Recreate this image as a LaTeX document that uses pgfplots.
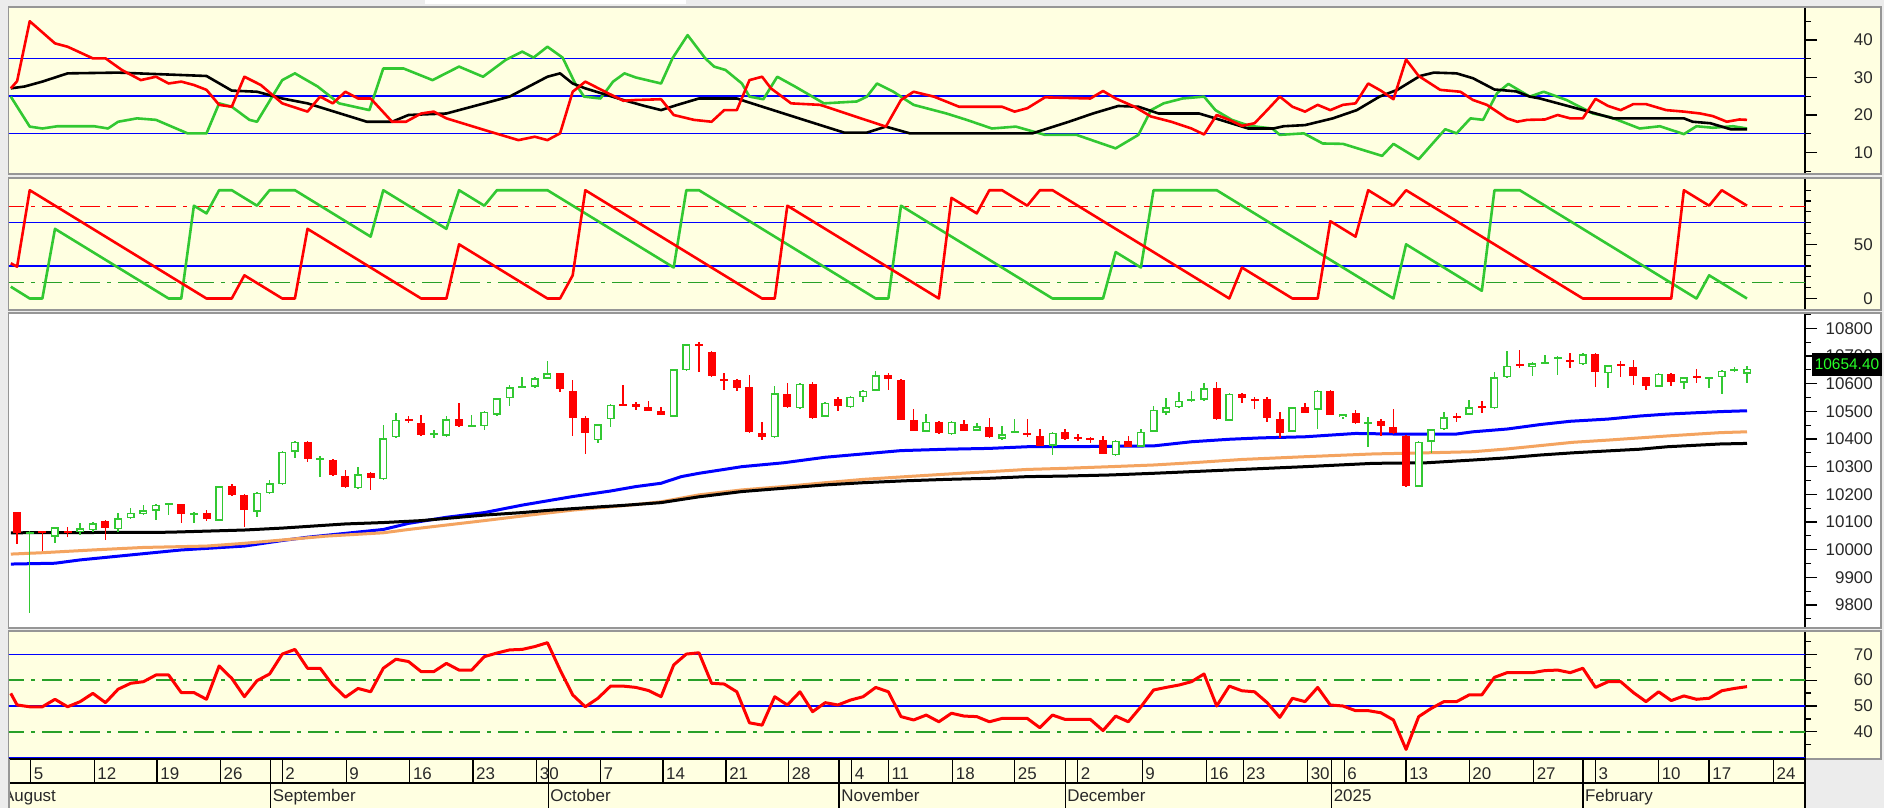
\documentclass[border=0pt]{standalone}
\usepackage{fontspec}
\setmainfont{Liberation Sans}
\usepackage{pgfplots}
\usepackage{pgfplotstable}
\pgfplotsset{compat=1.18}

\definecolor{pan}{RGB}{255,255,225}
\definecolor{win}{RGB}{236,236,236}
\definecolor{frm}{RGB}{150,150,150}
\definecolor{upg}{RGB}{50,200,50}
\definecolor{ddg}{RGB}{40,160,40}
\definecolor{dnr}{RGB}{255,0,0}
\definecolor{refb}{RGB}{0,0,255}
\definecolor{maor}{RGB}{244,164,96}
\definecolor{lbl}{RGB}{40,40,40}

% daily candles, i = trading day
\pgfplotstableread{
i O H L C
0 10137 10137 10020 10061
1 10058 10066 9770 10063
2 10065 10066 9996 10060
3 10047 10082 10025 10081
4 10066 10081 10047 10063
5 10065 10095 10053 10077
6 10071 10101 10065 10095
7 10104 10106 10035 10077
8 10074 10134 10065 10113
9 10113 10149 10110 10134
10 10129 10161 10125 10143
11 10140 10166 10107 10163
12 10165 10168 10125 10168
13 10164 10166 10095 10129
14 10128 10137 10095 10131
15 10131 10143 10105 10110
16 10105 10232 10103 10230
17 10230 10237 10195 10198
18 10198 10200 10083 10143
19 10137 10210 10119 10206
20 10204 10252 10200 10240
21 10237 10357 10235 10354
22 10354 10392 10330 10390
23 10390 10392 10318 10326
24 10326 10338 10264 10330
25 10324 10326 10268 10270
26 10266 10288 10222 10225
27 10222 10300 10220 10273
28 10278 10280 10216 10258
29 10254 10450 10252 10402
30 10406 10495 10404 10469
31 10474 10483 10457 10466
32 10457 10487 10412 10415
33 10418 10433 10402 10421
34 10411 10483 10409 10471
35 10471 10529 10445 10447
36 10447 10487 10445 10450
37 10447 10502 10433 10499
38 10487 10550 10483 10547
39 10547 10595 10519 10587
40 10587 10625 10585 10590
41 10589 10625 10586 10619
42 10617 10683 10615 10637
43 10637 10640 10571 10580
44 10575 10613 10411 10475
45 10475 10483 10346 10423
46 10396 10456 10387 10454
47 10471 10527 10444 10523
48 10525 10597 10519 10521
49 10525 10535 10505 10517
50 10517 10538 10500 10502
51 10502 10514 10485 10487
52 10481 10654 10479 10652
53 10649 10745 10647 10743
54 10743 10752 10643 10740
55 10716 10718 10625 10628
56 10617 10640 10577 10612
57 10613 10615 10575 10583
58 10587 10631 10420 10426
59 10423 10463 10396 10408
60 10406 10592 10404 10565
61 10563 10603 10512 10514
62 10511 10601 10509 10599
63 10599 10607 10473 10475
64 10481 10533 10479 10531
65 10543 10550 10502 10519
66 10514 10555 10512 10553
67 10550 10576 10535 10574
68 10574 10647 10572 10631
69 10631 10640 10577 10616
70 10613 10615 10467 10469
71 10469 10507 10428 10430
72 10426 10490 10424 10463
73 10463 10466 10418 10420
74 10418 10466 10416 10463
75 10454 10469 10428 10430
76 10430 10457 10428 10447
77 10445 10475 10404 10406
78 10400 10447 10398 10418
79 10426 10471 10420 10428
80 10420 10471 10406 10418
81 10411 10438 10373 10375
82 10375 10426 10342 10423
83 10426 10435 10397 10399
84 10404 10418 10394 10402
85 10402 10408 10384 10399
86 10396 10411 10344 10346
87 10342 10396 10340 10394
88 10394 10411 10370 10372
89 10372 10438 10370 10426
90 10426 10519 10424 10505
91 10495 10547 10487 10514
92 10514 10571 10512 10538
93 10538 10575 10535 10541
94 10541 10601 10539 10583
95 10583 10607 10469 10471
96 10466 10565 10464 10563
97 10563 10565 10531 10547
98 10543 10553 10507 10541
99 10543 10551 10463 10475
100 10472 10499 10402 10420
101 10426 10516 10424 10514
102 10514 10529 10493 10495
103 10505 10577 10438 10575
104 10575 10577 10485 10487
105 10478 10492 10471 10490
106 10495 10505 10454 10459
107 10457 10481 10372 10459
108 10465 10471 10411 10447
109 10444 10507 10418 10420
110 10411 10413 10228 10230
111 10228 10392 10226 10390
112 10390 10437 10350 10435
113 10435 10499 10433 10478
114 10481 10493 10463 10478
115 10487 10541 10485 10514
116 10519 10538 10495 10511
117 10511 10643 10509 10623
118 10623 10719 10619 10664
119 10669 10722 10655 10665
120 10659 10679 10628 10673
121 10674 10703 10671 10676
122 10693 10700 10631 10695
123 10685 10710 10655 10681
124 10671 10709 10669 10707
125 10707 10709 10589 10643
126 10637 10669 10583 10667
127 10669 10683 10625 10665
128 10661 10685 10595 10628
129 10623 10625 10577 10592
130 10589 10637 10587 10635
131 10635 10637 10592 10607
132 10604 10625 10580 10623
133 10625 10652 10601 10621
134 10620 10625 10583 10623
135 10623 10649 10563 10647
136 10648 10659 10643 10650
137 10635 10663 10601 10654.4
}\candles

\pgfplotsset{
  panel/.style={
    scale only axis, anchor=north west, width=1796bp,
    xmin=-0.6415, xmax=141.594,
    axis x line=none, axis y line*=right,
    xtick=\empty,
    tick align=outside,
    major tick length=12bp, minor tick length=6bp,
    tick style={black, line width=1.2bp},
    axis line style={black, line width=1.5bp},
    yticklabel style={anchor=east, inner sep=0pt, xshift=56bp,
      font=\fontsize{17}{19}\selectfont, text=lbl},
    /pgf/number format/assume math mode=true,
    /pgf/number format/1000 sep={},
    scaled y ticks=false,
  },
  ind/.style={line width=2.6bp, line join=round},
  hline/.style={refb, line width=1.5bp},
  dd/.style={line width=1.5bp, dash pattern=on 20bp off 7bp on 4bp off 7bp},
  candle/.style={draw=none, mark=none, forget plot,
    error bars/y dir=both, error bars/y explicit, error bars/error mark=none},
}

\begin{document}
\fontsize{17}{19}\selectfont
\begin{tikzpicture}
\useasboundingbox (0,0) rectangle (1884bp,-808bp);
\fill[win] (0,0) rectangle (1884bp,-808bp);
\fill[white] (425bp,-0.5bp) rectangle (686bp,-4bp);
% panel backgrounds
\fill[pan] (9bp,-8bp) rectangle (1880bp,-173bp);
\fill[pan] (9bp,-179bp) rectangle (1880bp,-309bp);
\fill[white] (9bp,-314bp) rectangle (1880bp,-627bp);
\fill[pan] (9bp,-632bp) rectangle (1880bp,-759bp);
\fill[pan] (9bp,-759bp) rectangle (1805bp,-808bp);
\draw[frm, line width=1.5bp] (8bp,-7bp) rectangle (1881bp,-174bp);
\draw[frm, line width=1.5bp] (8bp,-178bp) rectangle (1881bp,-310bp);
\draw[frm, line width=1.5bp] (8bp,-313bp) rectangle (1881bp,-628bp);
\draw[frm, line width=1.5bp] (8bp,-631bp) rectangle (1881bp,-759bp);

% ---- panel 1: DMI
\begin{axis}[panel, at={(9bp,-8bp)}, height=165bp,
  ymin=4.53, ymax=48.53,
  ytick={10,20,30,40}, minor ytick={5,15,25,35,45}]
\addplot[hline] coordinates {(-1,15) (142,15)};
\addplot[hline] coordinates {(-1,25) (142,25)};
\addplot[hline] coordinates {(-1,35) (142,35)};
\addplot[ind, upg] coordinates {(-0.5,24.9) (1,16.9) (2,16.4) (3.2,17) (6.1,17) (7.2,16.4) (8,18.2) (9.5,19.1) (11,18.7) (13.5,15.1) (15,15.1) (16,23.1) (17,22.2) (18.4,18.7) (19,18.2) (21,29.3) (22,31.1) (23.8,27.6) (25.5,23.1) (27.9,21.3) (29,32.4) (30.6,32.4) (32.9,29.3) (35,32.9) (36.9,30.2) (38.7,34.7) (40,36.9) (40.9,35.3) (42,38.2) (43.2,35.3) (44.2,28.4) (44.9,24.9) (46.2,24.4) (47.2,28.9) (48.1,31.1) (49,30) (51,28.4) (51.9,35.1) (53.1,41.3) (54.5,35.1) (55.2,32.9) (56.1,32) (57.4,28.4) (58,24.9) (59.1,24.2) (60.2,30.2) (61.6,27.6) (63.9,23.1) (66.5,23.6) (67.3,24.9) (68.1,28.4) (69.4,26.2) (70.4,24) (71,22.7) (73.6,20.4) (75.2,18.7) (77.2,16.4) (79.1,16.9) (81.4,14.7) (83.9,14.7) (87,11.1) (88.8,14.7) (89.8,21.3) (90.8,23.1) (92.3,24.4) (94,24.9) (94.9,21.3) (96.2,18.7) (97.6,17.1) (99.4,16.4) (100,14.7) (101.9,15.1) (103.4,12.4) (105,12.3) (108.1,9.1) (109,12.3) (111,8.2) (113.1,16.2) (114,15.1) (115.1,19.1) (116.1,18.7) (117.2,25.8) (118.1,28.3) (119.8,24.9) (120.9,26.2) (122.7,24) (124.8,20.4) (126.2,19.4) (128.5,16.4) (130.1,17) (132,14.9) (133,17) (134.3,16.6) (135.9,17) (137,16.4)};
\addplot[ind, black] coordinates {(-0.5,27.1) (0.6,27.6) (2,28.9) (4,31.1) (8,31.3) (15,30.4) (17,26.5) (19,26.2) (21,24.4) (23,23.1) (27.7,18.2) (29.7,18.2) (31,20) (34,20.4) (39,24.9) (42,30.2) (43,31.1) (44,28.4) (45,27.1) (48,24) (49.7,22.4) (51,21.3) (52.3,22.7) (54,24.4) (57,24.4) (58,23.3) (62.3,18.7) (65.5,15.3) (67.3,15.3) (68.8,16.9) (70.7,15.1) (80.4,15.1) (83.3,18.2) (85.2,20.4) (87.2,22.4) (88.8,22.2) (90.4,20.4) (93.6,20.4) (94.9,19.1) (97.5,16.4) (99.5,16.4) (100.3,17) (102,17.3) (104.2,19.1) (106.1,21.3) (107.9,24.9) (109.3,26.7) (111.1,30.4) (112.2,31.3) (114,31.1) (115.3,29.8) (117,26.8) (118.7,26.3) (119.8,24.9) (120.6,24.4) (124.8,20.6) (126.4,19.1) (132,19.1) (132.7,18.2) (134.1,17.8) (135.7,16.2) (137,16.2)};
\addplot[ind, dnr] coordinates {(-0.5,27.1) (0,29) (1,45) (3,39.1) (4,38.2) (6,35.1) (7,35.1) (8.3,32) (9.8,29.3) (11,30.2) (12,28.4) (13,28.9) (14,28) (15,26.7) (16,22.7) (17,22.2) (18,30.2) (19.3,28) (21,23.1) (23,20.9) (24,24.9) (25,23.1) (26,26.2) (27,24.4) (28,24.4) (29.7,18.2) (30.8,18.2) (32,20.4) (33,20.9) (34,19.1) (37.4,15.6) (39.7,13.3) (41,14.2) (42,13.3) (43,15.1) (44,26.2) (45,28.9) (46.8,25.8) (48,23.8) (49,24) (51,24.2) (52,20) (53.6,18.7) (55,18.2) (56,21.3) (57,21.3) (58,29.3) (59,30.2) (59.7,27.1) (61.3,23.1) (63.6,22.7) (68.8,16.9) (70,24) (71,26.2) (72.6,24.9) (74.6,22.2) (78,22.2) (79,20.9) (80,21.8) (81.4,24.7) (85,24.4) (86,26.4) (87,24.4) (88.5,22.2) (89.8,19.6) (91.4,18.2) (93,16.4) (94,14.8) (95,20) (96,18.7) (97,17.1) (98,17.8) (99,21.3) (100,24.9) (101,22.2) (102,20.9) (103,22.7) (104,21.3) (105,22.7) (106,23.1) (107,28.4) (108,26.5) (109,24.2) (110,34.8) (111,30.4) (112.7,26.7) (114.3,26.2) (115.3,24) (116.4,22.7) (118,19.1) (118.8,18.2) (119.6,18.7) (121,18.8) (122,20) (123,19.1) (124,19.1) (125,24.3) (126,22.4) (127,21.3) (128,22.9) (129,22.9) (130.6,21.3) (132,20.9) (133.3,20.4) (134.3,19.7) (135.4,18.2) (136.4,18.8) (137,18.7)};
\end{axis}

% ---- panel 2: Aroon
\begin{axis}[panel, at={(9bp,-179bp)}, height=130bp,
  ymin=-9.70, ymax=110.34,
  ytick={0,50}, minor ytick={10,20,30,40,60,70,80,90,100}]
\addplot[hline] coordinates {(-1,30) (142,30)};
\addplot[hline] coordinates {(-1,70) (142,70)};
\addplot[dd, dnr] coordinates {(-1,85) (142,85)};
\addplot[dd, ddg] coordinates {(-1,15) (142,15)};
\addplot[ind, upg] coordinates {(-0.5,10.9) (1,0) (2,0) (3,64.3) (12,0) (13,0) (14,85.7) (15,78.6) (16,100) (17,100) (19,85.7) (20,100) (22,100) (28,57.1) (29,100) (34,64.3) (35,100) (37,85.7) (38,100) (42,100) (52,28.6) (53,100) (54,100) (68,0) (69,0) (70,85.7) (82,0) (86,0) (87,42.9) (89,28.6) (90,100) (95,100) (109,0) (110,50) (116,7.1) (117,100) (119,100) (133,0) (134,21.4) (137,0)};
\addplot[ind, dnr] coordinates {(-0.5,32.5) (0,29.4) (1,100) (15,0) (17,0) (18,21.4) (21,0) (22,0) (23,64.3) (32,0) (34,0) (35,50) (42,0) (43,0) (44,21.4) (45,100) (59,0) (60,0) (61,85.7) (73,0) (74,92.9) (76,78.6) (77,100) (78,100) (80,85.7) (81,100) (82,100) (96,0) (97,28.6) (101,0) (103,0) (104,71.4) (106,57.1) (107,100) (109,85.7) (110,100) (124,0) (131,0) (132,100) (134,85.7) (135,100) (137,85.7)};
\end{axis}

% ---- panel 3: price
\begin{axis}[panel, at={(9bp,-314bp)}, height=313bp,
  ymin=9720.5, ymax=10851.7,
  ytick={9800,9900,...,10800}, minor ytick={9750,9850,...,10850}]
\addplot[line width=3bp, refb] coordinates {(-0.5,9948) (3,9951) (5,9963) (9,9981) (13,9999) (18,10013) (21,10033) (23,10045) (26,10059) (29,10073) (31,10095) (34,10117) (37,10134) (40,10161) (44,10192) (47,10212) (49,10228) (51,10240) (52.6,10264) (54,10276) (56,10290) (57.4,10300) (60.7,10314) (64,10334) (67,10346) (70,10358) (73.6,10363) (77,10366) (80,10372) (83,10372) (90,10375) (93,10390) (96,10399) (98.5,10404) (102,10408) (106,10420) (109,10418) (114,10418) (115.3,10426) (118,10436) (120.6,10452) (123,10464) (126,10472) (128.5,10483) (130.7,10490) (134.9,10499) (137,10502)};
\addplot[line width=3bp, maor] coordinates {(-0.5,9984) (2,9989) (6,9999) (10,10008) (15,10013) (18,10023) (21,10035) (24.5,10049) (29,10061) (31,10073) (34,10089) (37,10105) (40.6,10125) (44,10143) (47,10155) (49,10163) (51,10173) (54,10198) (57.4,10216) (60.7,10228) (64,10242) (67,10254) (70.4,10264) (73.6,10273) (77,10282) (80,10290) (83,10294) (86.6,10300) (90,10306) (93,10314) (97,10326) (102,10336) (107.4,10346) (111.6,10350) (115.3,10354) (118,10364) (120.6,10376) (123.2,10388) (126,10396) (128.5,10404) (130.7,10411) (134.9,10423) (137,10426)};
\addplot[line width=3bp, black] coordinates {(-0.5,10061) (12,10063) (18,10071) (21,10078) (26,10093) (29,10098) (32,10105) (34,10113) (37,10125) (40,10134) (42.3,10143) (46.2,10155) (48,10160) (51,10170) (54,10191) (57.4,10210) (60.7,10222) (64,10234) (67,10242) (70.4,10249) (73.6,10254) (77,10258) (80,10264) (83,10266) (86.6,10270) (90,10276) (93,10282) (97,10290) (102,10300) (107.4,10312) (111.6,10314) (115.3,10324) (118,10332) (120.6,10342) (123.2,10350) (126,10357) (128.5,10363) (130.7,10372) (134.9,10382) (137,10384)};
% wicks
\addplot[candle, restrict expr to domain={\thisrow{C}-\thisrow{O}}{0:100000},
  error bars/error bar style={draw=upg, line width=1.5bp}]
  table[x=i, y expr={(\thisrow{H}+\thisrow{L})/2}, y error expr={(\thisrow{H}-\thisrow{L})/2}] {\candles};
\addplot[candle, restrict expr to domain={\thisrow{C}-\thisrow{O}}{-100000:-0.001},
  error bars/error bar style={draw=dnr, line width=1.5bp}]
  table[x=i, y expr={(\thisrow{H}+\thisrow{L})/2}, y error expr={(\thisrow{H}-\thisrow{L})/2}] {\candles};
% bodies
\addplot[candle, restrict expr to domain={\thisrow{C}-\thisrow{O}}{0:100000},
  error bars/error bar style={draw=upg, line width=8bp}]
  table[x=i, y expr={(\thisrow{O}+\thisrow{C})/2}, y error expr={max(abs(\thisrow{C}-\thisrow{O})/2,3.6)}] {\candles};
\addplot[candle, restrict expr to domain={\thisrow{C}-\thisrow{O}}{12:100000},
  error bars/error bar style={draw=white, line width=5bp}]
  table[x=i, y expr={(\thisrow{O}+\thisrow{C})/2}, y error expr={abs(\thisrow{C}-\thisrow{O})/2-5.4}] {\candles};
\addplot[candle, restrict expr to domain={\thisrow{C}-\thisrow{O}}{-100000:-0.001},
  error bars/error bar style={draw=dnr, line width=8bp}]
  table[x=i, y expr={(\thisrow{O}+\thisrow{C})/2}, y error expr={max(abs(\thisrow{C}-\thisrow{O})/2,3.6)}] {\candles};
\end{axis}

% ---- panel 4: RSI
\begin{axis}[panel, at={(9bp,-632bp)}, height=127bp,
  ymin=29.5, ymax=78.63,
  ytick={40,50,60,70}, minor ytick={35,45,55,65,75}]
\addplot[hline] coordinates {(-1,30) (142,30)};
\addplot[hline] coordinates {(-1,50) (142,50)};
\addplot[hline] coordinates {(-1,70) (142,70)};
\addplot[dd, ddg] coordinates {(-1,40) (142,40)};
\addplot[dd, ddg] coordinates {(-1,60) (142,60)};
\addplot[line width=3bp, line join=round, dnr] coordinates {(-0.5,54.9) (0,50.4) (1,49.7) (2,49.7) (3,52.6) (4,49.7) (5,51.7) (6,54.9) (7,51.3) (8,56.5) (9,58.8) (10,59.4) (11,62) (12,62) (13,55.2) (14,55.2) (15,52.6) (16,65.5) (17,60.7) (18,53.6) (19,59.8) (20,62.4) (21,70.1) (22,71.9) (23,64.6) (24,64.6) (25,58.1) (26,53.4) (27,56.8) (28,55.5) (29,64.6) (30,68.1) (31,67.2) (32,63.3) (33,63.3) (34,66.5) (35,63.9) (36,63.9) (37,69.1) (38,70.5) (39,71.7) (40,71.9) (41,73) (42,74.5) (43,64) (44,54.3) (45,49.7) (46,53) (47,57.7) (48,57.7) (49,57.2) (50,56) (51,53.6) (52,65.9) (53,70.1) (54,70.6) (55,58.8) (56,58.5) (57,55.5) (58,43.5) (59,42.6) (60,53.6) (61,50.4) (62,55.5) (63,47.8) (64,51.3) (65,50.4) (66,52.3) (67,53.6) (68,57.2) (69,55.5) (70,45.9) (71,44.6) (72,46.5) (73,43.9) (74,47.2) (75,46.1) (76,45.9) (77,43.9) (78,45.2) (79,45.2) (80,45.2) (81,41.6) (82,46.5) (83,44.8) (84,44.8) (85,44.8) (86,40.5) (87,46.1) (88,43.9) (89,49.7) (90,56.2) (91,57.2) (92,58.1) (93,59.4) (94,62.4) (95,50) (96,57.7) (97,55.9) (98,55.5) (99,51.3) (100,45.6) (101,53) (102,51.7) (103,57.2) (104,50.4) (105,50) (106,48.2) (107,48.2) (108,47.4) (109,44.6) (110,33.2) (111,45.9) (112,49.1) (113,51.7) (114,51.7) (115,54.3) (116,54.3) (117,61.1) (118,62.9) (119,62.9) (120,62.9) (121,63.7) (122,63.9) (123,62.9) (124,64.6) (125,57.2) (126,59.4) (127,59.4) (128,55.2) (129,51.7) (130,55.5) (131,52.1) (132,53.9) (133,52.6) (134,53) (135,55.9) (136,56.8) (137,57.5)};
\end{axis}

% ---- date strip
\draw[black, line width=1.5bp] (9bp,-759bp) -- (1805bp,-759bp);
\draw[black, line width=1.5bp] (9bp,-783bp) -- (1805bp,-783bp);
\draw[black, line width=1.5bp] (1805bp,-759bp) -- (1805bp,-808bp);
\foreach \p/\t in {1.07/5, 6.11/12, 11.09/19, 16.1/26, 21.0/2, 26.06/9, 31.1/16, 36.1/23, 41.15/30, 46.2/7, 51.15/14, 56.15/21, 61.1/28, 66.1/4, 69.0/11, 74.1/18, 79.0/25, 84.0/2, 89.1/9, 94.2/16, 97.1/23, 102.2/30, 105.1/6, 110.0/13, 115.0/20, 120.1/27, 125.0/3, 130.0/10, 134.0/17, 139.1/24}{
  \pgfmathsetmacro\xx{17.1+12.627*\p}
  \draw[black, line width=1.3bp] (\xx bp,-759bp) -- (\xx bp,-783bp);
  \node[anchor=base west, inner sep=0pt, text=lbl] at ({\xx bp+3bp},-779.5bp) {\t};
}
\node[anchor=base west, inner sep=0pt, text=lbl] at (3bp,-801bp) {August};
\foreach \p/\t in {20.08/September, 42.06/October, 65.1/November, 83.0/December, 104.1/2025, 124.0/February}{
  \pgfmathsetmacro\xx{17.1+12.627*\p}
  \draw[black, line width=1.3bp] (\xx bp,-759bp) -- (\xx bp,-808bp);
  \node[anchor=base west, inner sep=0pt, text=lbl] at ({\xx bp+2bp},-801bp) {\t};
}
\fill[win] (0,0) rectangle (8bp,-808bp);
\draw[frm, line width=1.5bp] (9bp,-759bp) -- (9bp,-808bp);

% last price tag
\fill[black] (1812bp,-353bp) rectangle (1882bp,-376bp);
\node[text={rgb,255:red,40;green,255;blue,40}, inner sep=0pt, font=\fontsize{15.5}{18}\selectfont] at (1847bp,-364.5bp) {10654.40};
\end{tikzpicture}
\end{document}
